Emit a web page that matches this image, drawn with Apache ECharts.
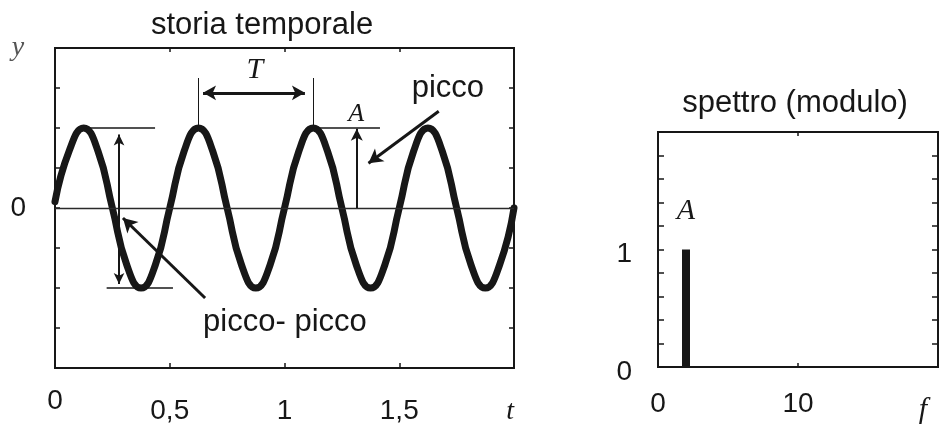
<!DOCTYPE html>
<html>
<head>
<meta charset="utf-8">
<script src="https://cdn.jsdelivr.net/npm/echarts@6/dist/echarts.min.js"></script>
<style>
  html, body { margin: 0; background: #fff; }
  #chart { width: 941px; height: 428px; }
</style>
</head>
<body>
<div id="chart"></div>
<script>
// storia temporale (t in s)
const tempi = [0, 0.0625, 0.125, 0.1875, 0.25, 0.3125, 0.375, 0.4375, 0.5,
  0.5625, 0.625, 0.6875, 0.75, 0.8125, 0.875, 0.9375, 1,
  1.0625, 1.125, 1.1875, 1.25, 1.3125, 1.375, 1.4375, 1.5,
  1.5625, 1.625, 1.6875, 1.75, 1.8125, 1.875, 1.9375, 2];
const segnale = [0.08, 0.72, 1, 0.71, 0, -0.71, -1, -0.71, 0,
  0.71, 1, 0.71, 0, -0.71, -1, -0.71, 0,
  0.71, 1, 0.71, 0, -0.71, -1, -0.71, 0,
  0.71, 1, 0.71, 0, -0.71, -1, -0.71, 0];
const etichetteTempo = { 0: '0', 0.5: '0,5', 1: '1', 1.5: '1,5' };

// spettro (modulo)
const frequenze = [2];
const modulo = [1];
const etichetteFreq = { 0: '0', 10: '10' };
const etichetteModulo = { 0: '0', 1: '1' };

const ink = '#171717';
const sans = '"Liberation Sans", Arial, sans-serif';
const serif = '"Liberation Serif", "Times New Roman", serif';

const chart = echarts.init(document.getElementById('chart'));

function pick(map, v) {
  for (const k in map) if (Math.abs(+k - v) < 1e-6) return map[k];
  return '';
}

function tratto(a, b, width, startSym, endSym, size) {
  const ls = { color: ink, width: width, type: 'solid' };
  return [
    { coord: a, symbol: startSym || 'none', symbolSize: size || [10, 12], lineStyle: ls },
    { coord: b, symbol: endSym || 'none', symbolSize: size || [10, 12], lineStyle: ls }
  ];
}

const tickInside = (len) => ({ show: true, inside: true, length: len, lineStyle: { color: ink, width: 1.5 } });
const frame = { show: true, onZero: false, lineStyle: { color: ink, width: 1.8 } };
const noSplit = { show: false };

const option = {
  animation: false,
  backgroundColor: '#fff',
  grid: [
    { left: 55, top: 48, width: 459, height: 320, show: true, borderColor: ink, borderWidth: 1.8 },
    { left: 658, top: 132, width: 280, height: 235, show: true, borderColor: ink, borderWidth: 1.8 }
  ],
  xAxis: [
    {
      gridIndex: 0, type: 'value', min: 0, max: 2, interval: 0.5,
      axisLine: frame, axisTick: tickInside(5), splitLine: noSplit,
      axisLabel: {
        margin: 19,
        formatter: v => v === 0 ? '{a|0}' : (pick(etichetteTempo, v) ? '{b|' + pick(etichetteTempo, v) + '}' : ''),
        rich: {
          a: { fontSize: 28, fontFamily: sans, color: ink, lineHeight: 28 },
          b: { fontSize: 28, fontFamily: sans, color: ink, lineHeight: 48 }
        }
      }
    },
    {
      gridIndex: 0, type: 'value', position: 'top', min: 0, max: 2, interval: 0.5,
      axisLine: frame, axisTick: tickInside(4), axisLabel: { show: false }, splitLine: noSplit
    },
    {
      gridIndex: 1, type: 'value', min: 0, max: 20, interval: 10,
      axisLine: frame, axisTick: tickInside(4), splitLine: noSplit,
      axisLabel: {
        margin: 23, color: ink, fontSize: 28, fontFamily: sans, lineHeight: 28,
        formatter: v => pick(etichetteFreq, v)
      }
    },
    {
      gridIndex: 1, type: 'value', position: 'top', min: 0, max: 20, interval: 10,
      axisLine: frame, axisTick: tickInside(4), axisLabel: { show: false }, splitLine: noSplit
    }
  ],
  yAxis: [
    {
      gridIndex: 0, type: 'value', min: -2, max: 2, interval: 0.5,
      axisLine: frame, axisTick: tickInside(5), splitLine: noSplit,
      axisLabel: { margin: 29, color: ink, fontSize: 28, fontFamily: sans, formatter: v => pick({ 0: '0' }, v) }
    },
    {
      gridIndex: 0, type: 'value', position: 'right', min: -2, max: 2, interval: 0.5,
      axisLine: frame, axisTick: tickInside(5), axisLabel: { show: false }, splitLine: noSplit
    },
    {
      gridIndex: 1, type: 'value', min: 0, max: 2, interval: 0.2,
      axisLine: frame, axisTick: tickInside(6), splitLine: noSplit,
      axisLabel: {
        margin: 26, color: ink, fontSize: 28, fontFamily: sans,
        verticalAlign: 'top', lineHeight: 10,
        formatter: v => pick(etichetteModulo, v)
      }
    },
    {
      gridIndex: 1, type: 'value', position: 'right', min: 0, max: 2, interval: 0.2,
      axisLine: frame, axisTick: tickInside(6), axisLabel: { show: false }, splitLine: noSplit
    }
  ],
  series: [
    {
      name: 'y(t)',
      type: 'line',
      xAxisIndex: 0,
      yAxisIndex: 0,
      data: tempi.map((t, i) => [t, segnale[i]]),
      smooth: 0.5,
      showSymbol: false,
      z: 3,
      lineStyle: { color: ink, width: 7, cap: 'round' },
      markLine: {
        silent: true,
        symbol: ['none', 'none'],
        label: { show: false },
        animation: false,
        data: [
          { yAxis: 0, lineStyle: { color: '#2a2a2a', width: 1.4, type: 'solid' } },
          // picco-picco
          tratto([0.122, 1], [0.436, 1], 1.5),
          tratto([0.225, -1], [0.514, -1], 1.5),
          tratto([0.279, 0.92], [0.279, -0.95], 2, 'arrow', 'arrow', [8, 11]),
          tratto([0.654, -1.125], [0.296, -0.125], 3, 'none', 'arrow', [12, 14]),
          // periodo T
          tratto([0.623, 1], [0.623, 1.625], 1),
          tratto([1.124, 1], [1.124, 1.625], 1),
          tratto([0.645, 1.44], [1.089, 1.44], 3, 'arrow', 'arrow', [11, 13]),
          // ampiezza A
          tratto([1.124, 1], [1.416, 1], 1.5),
          tratto([1.315, 0], [1.315, 0.99], 2, 'none', 'arrow', [9, 12]),
          // picco
          tratto([1.672, 1.21], [1.366, 0.56], 3, 'none', 'arrow', [12, 14])
        ]
      }
    },
    {
      name: 'modulo',
      type: 'bar',
      xAxisIndex: 2,
      yAxisIndex: 2,
      data: frequenze.map((f, i) => [f, modulo[i]]),
      barWidth: 8,
      itemStyle: { color: ink }
    }
  ]
};

chart.setOption(option);

// testi (posizioni in coordinate dei dati)
const testi = [
  { serie: 0, pos: [0.902, 2.28], text: 'storia temporale', size: 31, family: sans },
  { serie: 0, pos: [-0.161, 2.0], text: 'y', size: 28, family: serif, italic: true, fill: '#555' },
  { serie: 0, pos: [1.983, -2.54], text: 't', size: 28, family: serif, italic: true },
  { serie: 0, pos: [0.871, 1.725], text: 'T', size: 30, family: serif, italic: true },
  { serie: 0, pos: [1.312, 1.175], text: 'A', size: 26, family: serif, italic: true },
  { serie: 0, pos: [1.712, 1.49], text: 'picco', size: 31, family: sans },
  { serie: 0, pos: [1.002, -1.425], text: 'picco- picco', size: 31, family: sans },
  { serie: 1, pos: [9.79, 2.24], text: 'spettro (modulo)', size: 31, family: sans },
  { serie: 1, pos: [2.0, 1.33], text: 'A', size: 30, family: serif, italic: true },
  { serie: 1, pos: [18.93, -0.366], text: 'f', size: 30, family: serif, italic: true }
];

chart.setOption({
  graphic: testi.map(e => {
    const [x, y] = chart.convertToPixel({ seriesIndex: e.serie }, e.pos);
    return {
      type: 'text', x: x, y: y, z: 10, silent: true,
      style: {
        text: e.text, fontSize: e.size, fontFamily: e.family,
        fontStyle: e.italic ? 'italic' : 'normal',
        fill: e.fill || ink, align: 'center', verticalAlign: 'middle'
      }
    };
  })
});
</script>
</body>
</html>
